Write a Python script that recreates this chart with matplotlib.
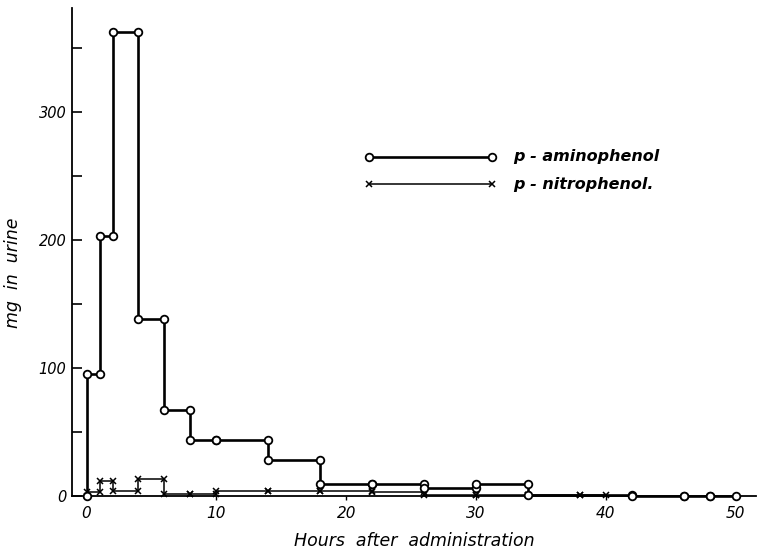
"""Urinary excretion of p-aminophenol and p-nitrophenol — step chart recreation."""

import matplotlib

matplotlib.use("Agg")
import matplotlib.pyplot as plt
import numpy as np

# ── data: collection intervals (hours) and mg excreted per interval ──
amino_edges = [0, 1, 2, 4, 6, 8, 10, 14, 18, 22, 26, 30, 34, 42, 46, 48, 50]
amino_mg = [95, 203, 362, 138, 67, 44, 44, 28, 9.5, 9.5, 6.5, 9, 0.5, 0, 0, 0]

nitro_edges = [0, 1, 2, 4, 6, 8, 10, 14, 18, 22, 26, 30, 34, 38, 40]
nitro_mg = [3, 12, 4, 13, 1.5, 1.5, 3.5, 3.5, 3.5, 3, 1, 1, 0.5, 0.5]

x_ticks = [0, 10, 20, 30, 40, 50]
y_ticks = [0, 100, 200, 300]
y_minor = [50, 150, 250, 350]


def step_path(edges, vals):
    """(0,0) start, then both ends of every interval's level."""
    edges = np.asarray(edges, dtype=float)
    vals = np.asarray(vals, dtype=float)
    xs = np.column_stack([edges[:-1], edges[1:]]).ravel()
    ys = np.repeat(vals, 2)
    return np.concatenate([[edges[0]], xs]), np.concatenate([[0.0], ys])


def main() -> None:
    fig = plt.figure(figsize=(7.58, 5.56), dpi=100)
    ax = fig.add_axes([0.095, 0.108, 0.903, 0.878])

    ital = dict(style="italic", family="DejaVu Sans")

    ax_x, ax_y = step_path(amino_edges, amino_mg)
    nx_x, nx_y = step_path(nitro_edges, nitro_mg)

    ax.plot(nx_x, nx_y, color="black", lw=1.1, marker="x", ms=4, mew=1.1,
            clip_on=False, zorder=3)
    ax.plot(ax_x, ax_y, color="black", lw=1.9, marker="o", ms=5.5,
            mfc="white", mec="black", mew=1.3, clip_on=False, zorder=4)

    ax.set_xlim(-1.12, 51.6)
    ax.set_ylim(0, 381)

    for side in ("top", "right"):
        ax.spines[side].set_visible(False)
    for side in ("left", "bottom"):
        ax.spines[side].set_linewidth(1.3)

    ax.set_yticks(y_ticks)
    ax.set_yticklabels([str(v) for v in y_ticks], **ital, fontsize=10.5)
    ax.set_yticks(y_minor, minor=True)
    ax.tick_params(axis="y", which="both", direction="in", length=7, width=1.2, pad=4)

    ax.set_xticks(x_ticks)
    ax.set_xticklabels([str(v) for v in x_ticks], **ital, fontsize=11)
    ax.tick_params(axis="x", direction="out", length=3, width=1, pad=4)

    ax.set_xlabel("Hours  after  administration", **ital, fontsize=12.5, labelpad=8)
    ax.set_ylabel("mg  in  urine", **ital, fontsize=12.5)
    ax.yaxis.set_label_coords(-0.073, 0.457)

    # ── legend drawn by hand, as in the original ──
    leg_x = [0.434, 0.613]
    ax.plot(leg_x, [0.695, 0.695], transform=ax.transAxes, color="black", lw=1.9,
            marker="o", ms=5.5, mfc="white", mec="black", mew=1.3, clip_on=False)
    ax.plot(leg_x, [0.639, 0.639], transform=ax.transAxes, color="black", lw=1.1,
            marker="x", ms=4, mew=1.1, clip_on=False)
    ax.text(0.645, 0.695, "p - aminophenol", transform=ax.transAxes, va="center",
            **ital, fontsize=11.5, weight="bold")
    ax.text(0.645, 0.639, "p - nitrophenol.", transform=ax.transAxes, va="center",
            **ital, fontsize=11.5, weight="bold")

    fig.savefig("out.png", dpi=100)


if __name__ == "__main__":
    main()
